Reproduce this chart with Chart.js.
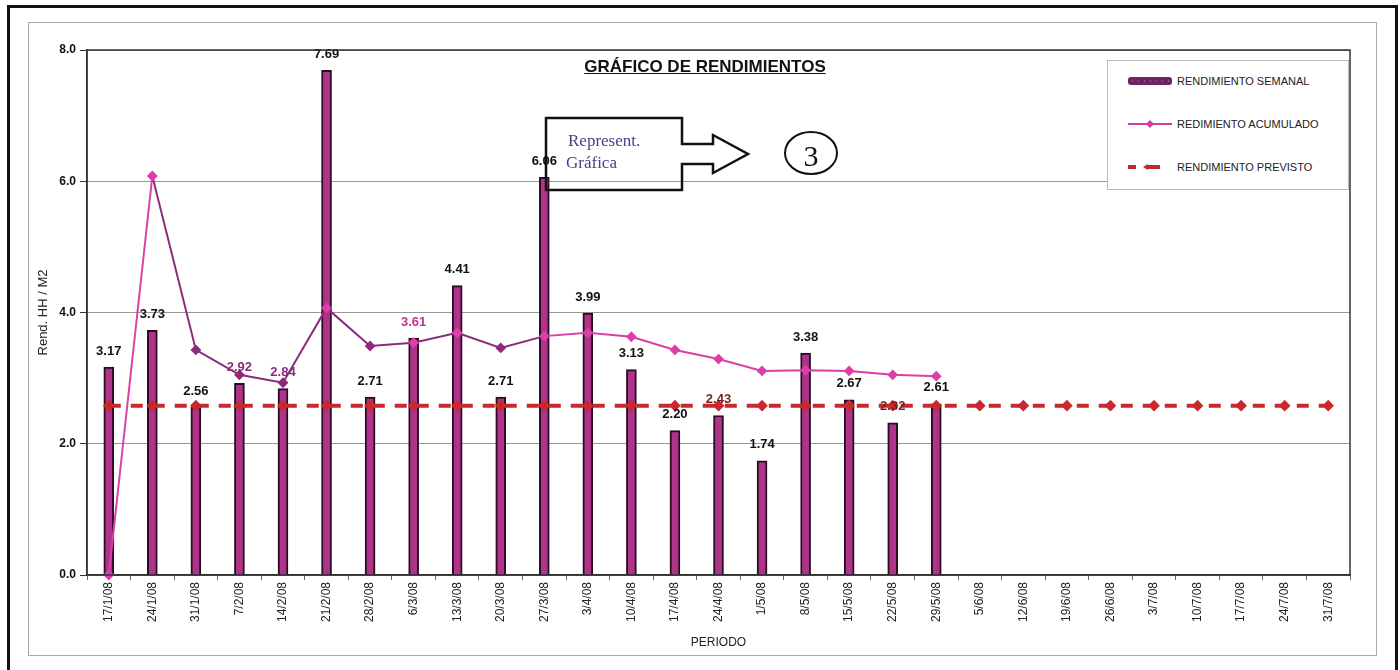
<!DOCTYPE html>
<html lang="es">
<head>
  <meta charset="UTF-8">
  <title>Gráfico de Rendimientos</title>
  <style>
    body {
      margin: 0;
      background: #fff;
      font-family: 'Liberation Sans', Arial, sans-serif;
      overflow: hidden;
    }
    .page { position: relative; width: 1400px; height: 670px; }
    #chart { position: absolute; left: 0; top: 0; }
    .outer-frame {
      position: absolute; left: 7px; top: 5px; width: 1385px; height: 680px;
      border: 3px solid #111; border-bottom: none;
    }
    .inner-frame {
      position: absolute; left: 28px; top: 22px; width: 1347px; height: 632px;
      border: 1px solid #aaa;
    }
    .title {
      position: absolute; left: 555px; top: 57px; width: 300px;
      text-align: center; font-weight: bold; font-size: 17px;
      text-decoration: underline; color: #111;
    }
    .legend {
      position: absolute; left: 1107px; top: 60px; width: 240px; height: 128px;
      border: 1px solid #bbb; background: #fff;
    }
    .legend .item {
      position: absolute; left: 18px; font-size: 11px; color: #222;
      display: flex; align-items: center;
    }
    .legend svg { margin-right: 3px; }
    .note { position: absolute; left: 0; top: 0; pointer-events: none; }
  </style>
  <script src="https://cdn.jsdelivr.net/npm/chart.js"></script>
</head>
<body>
<div class="page">
  <div class="outer-frame"></div>
  <div class="inner-frame"></div>
  <canvas id="chart" width="1400" height="670"></canvas>

  <div class="title">GRÁFICO DE RENDIMIENTOS</div>

  <!-- legend -->
  <div class="legend">
    <div class="item" style="top:14px">
      <svg width="48" height="12"><rect x="2" y="2" width="44" height="8" rx="3" fill="#6e2366"/>
        <line x1="6" y1="6" x2="44" y2="6" stroke="#b784b0" stroke-width="1" stroke-dasharray="1 5"/></svg>
      <span>RENDIMIENTO SEMANAL</span>
    </div>
    <div class="item" style="top:57px">
      <svg width="48" height="12"><line x1="2" y1="6" x2="46" y2="6" stroke="#d040a0" stroke-width="2"/>
        <polygon points="24,2 28,6 24,10 20,6" fill="#d040a0"/></svg>
      <span>REDIMIENTO ACUMULADO</span>
    </div>
    <div class="item" style="top:100px">
      <svg width="48" height="12"><line x1="2" y1="6" x2="10" y2="6" stroke="#c0282e" stroke-width="4"/>
        <line x1="20" y1="6" x2="34" y2="6" stroke="#c0282e" stroke-width="4"/>
        <polygon points="17,6 22,3 22,9" fill="#c0282e"/></svg>
      <span>RENDIMIENTO PREVISTO</span>
    </div>
  </div>

  <!-- hand-drawn callout -->
  <svg class="note" width="1400" height="670">
    <path d="M546 118 L682 118 L682 144 L713 144 L713 135 L748 154 L713 173 L713 164 L682 164 L682 190 L546 190 Z"
          fill="none" stroke="#111" stroke-width="2.5"/>
    <text x="568" y="146" font-family="'Liberation Serif', serif" font-size="17" fill="#4a3d8c">Represent.</text>
    <text x="566" y="168" font-family="'Liberation Serif', serif" font-size="17" fill="#4a3d8c">Gráfica</text>
    <ellipse cx="811" cy="153" rx="26" ry="21" fill="none" stroke="#111" stroke-width="2"/>
    <text x="811" y="166" text-anchor="middle" font-family="'Liberation Serif', serif" font-size="30" fill="#111">3</text>
  </svg>
</div>

<script>
  // weekly periods (x axis)
  const periodos = ['17/1/08', '24/1/08', '31/1/08', '7/2/08', '14/2/08', '21/2/08', '28/2/08', '6/3/08',
    '13/3/08', '20/3/08', '27/3/08', '3/4/08', '10/4/08', '17/4/08', '24/4/08', '1/5/08', '8/5/08',
    '15/5/08', '22/5/08', '29/5/08', '5/6/08', '12/6/08', '19/6/08', '26/6/08', '3/7/08', '10/7/08',
    '17/7/08', '24/7/08', '31/7/08'];

  // RENDIMIENTO SEMANAL (bars)
  const semanal = [3.17, 3.73, 2.56, 2.92, 2.84, 7.69, 2.71, 3.61, 4.41, 2.71, 6.06, 3.99, 3.13,
    2.20, 2.43, 1.74, 3.38, 2.67, 2.32, 2.61, null, null, null, null, null, null, null, null, null];

  // REDIMIENTO ACUMULADO (line)
  const acumulado = [0.00, 6.08, 3.43, 3.05, 2.93, 4.07, 3.49, 3.54, 3.69, 3.46, 3.64, 3.69, 3.63,
    3.43, 3.29, 3.11, 3.12, 3.11, 3.05, 3.03, null, null, null, null, null, null, null, null, null];

  // RENDIMIENTO PREVISTO (dashed)
  const previsto = [2.58, 2.58, 2.58, 2.58, 2.58, 2.58, 2.58, 2.58, 2.58, 2.58, 2.58, 2.58, 2.58,
    2.58, 2.58, 2.58, 2.58, 2.58, 2.58, 2.58, 2.58, 2.58, 2.58, 2.58, 2.58, 2.58, 2.58, 2.58, 2.58];

  const yTicks = [0, 2, 4, 6, 8];

  // label colours for the bar values (some got overprinted in the original)
  const labelColors = ['#111', '#111', '#111', '#8e2a7e', '#8e2a7e', '#111', '#111', '#c0338f', '#111',
    '#111', '#111', '#111', '#111', '#111', '#7a1f1f', '#111', '#111', '#111', '#7a1f1f', '#111'];

  const PINK = '#dc3fa6';
  const PURPLE = '#8e2a7e';
  const acumPointColors = acumulado.map((v, i) => [2, 3, 4, 6, 9].includes(i) ? PURPLE : PINK);

  // values above bars
  const barLabels = {
    id: 'barLabels',
    afterDatasetsDraw(chart) {
      const meta = chart.getDatasetMeta(2);
      const ctx = chart.ctx;
      ctx.save();
      ctx.font = 'bold 13px "Liberation Sans", Arial';
      ctx.textAlign = 'center';
      ctx.textBaseline = 'middle';
      meta.data.forEach((bar, i) => {
        if (semanal[i] == null) return;
        ctx.fillStyle = labelColors[i] || '#111';
        ctx.fillText(semanal[i].toFixed(2), bar.x, bar.y - 16);
      });
      ctx.restore();
    }
  };

  // frame around plot area
  const plotBorder = {
    id: 'plotBorder',
    afterDraw(chart) {
      const a = chart.chartArea;
      const ctx = chart.ctx;
      ctx.save();
      ctx.strokeStyle = '#333';
      ctx.lineWidth = 1.5;
      ctx.strokeRect(a.left, a.top, a.right - a.left, a.bottom - a.top);
      ctx.restore();
    }
  };

  new Chart(document.getElementById('chart'), {
    data: {
      labels: periodos,
      datasets: [
        {
          type: 'line',
          label: 'REDIMIENTO ACUMULADO',
          data: acumulado,
          borderColor: PINK,
          borderWidth: 2,
          pointStyle: 'rectRot',
          pointRadius: 4,
          pointBackgroundColor: acumPointColors,
          pointBorderColor: acumPointColors,
          clip: false,
          segment: {
            borderColor: c => (c.p0DataIndex >= 1 && c.p0DataIndex <= 9) ? PURPLE : PINK
          },
          order: 0
        },
        {
          type: 'line',
          label: 'RENDIMIENTO PREVISTO',
          data: previsto,
          borderColor: '#c8282e',
          borderWidth: 4,
          borderDash: [12, 10],
          pointStyle: 'rectRot',
          pointRadius: 3,
          pointBackgroundColor: '#c8282e',
          pointBorderColor: '#c8282e',
          order: 1
        },
        {
          type: 'bar',
          label: 'RENDIMIENTO SEMANAL',
          data: semanal,
          backgroundColor: '#b0338a',
          borderColor: '#2a0d24',
          borderWidth: 2,
          barThickness: 10,
          order: 2
        }
      ]
    },
    options: {
      responsive: false,
      animation: false,
      layout: { padding: { left: 36, right: 50, top: 50, bottom: 20 } },
      plugins: {
        legend: { display: false },
        tooltip: { enabled: false }
      },
      scales: {
        x: {
          afterFit: s => { s.height = 75; },
          grid: { drawOnChartArea: false, drawTicks: true, tickLength: 5, color: '#666' },
          border: { color: '#333', width: 1.5 },
          ticks: {
            maxRotation: 90, minRotation: 90, autoSkip: false, padding: 2,
            color: '#222', font: { family: '"Liberation Sans", Arial', size: 12 }
          },
          title: {
            display: true, text: 'PERIODO', color: '#222', padding: { top: 0, bottom: 0 },
            font: { family: '"Liberation Sans", Arial', size: 12 }
          }
        },
        y: {
          min: 0, max: 8,
          afterFit: s => { s.width = 51; },
          afterBuildTicks: s => { s.ticks = yTicks.map(v => ({ value: v })); },
          grid: { color: '#999', lineWidth: 1, tickLength: 7, tickColor: '#333' },
          border: { color: '#333', width: 1.5 },
          ticks: {
            padding: 4, color: '#111',
            font: { family: '"Liberation Sans", Arial', size: 12, weight: 'bold' },
            callback: v => v.toFixed(1)
          },
          title: {
            display: true, text: 'Rend. HH / M2', color: '#222', padding: { top: 0, bottom: 2 },
            font: { family: '"Liberation Sans", Arial', size: 13 }
          }
        }
      }
    },
    plugins: [barLabels, plotBorder]
  });
</script>
</body>
</html>
